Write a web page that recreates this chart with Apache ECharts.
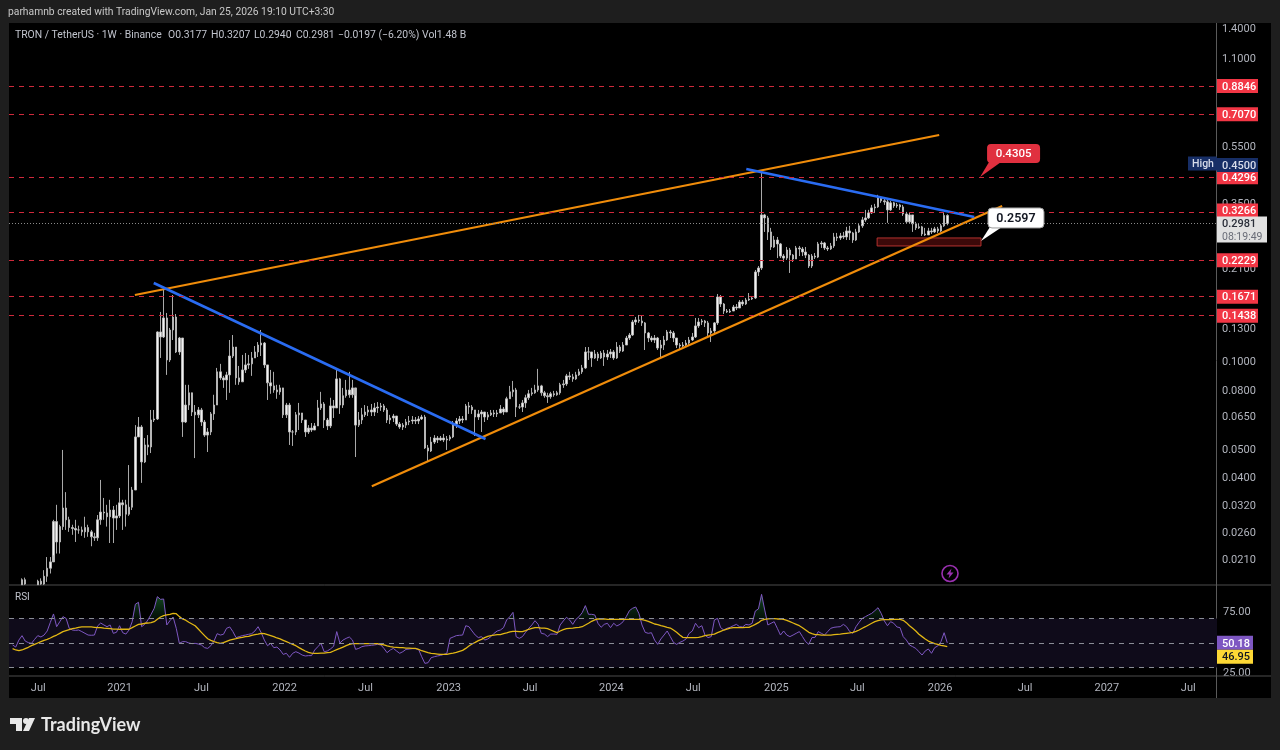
<!DOCTYPE html>
<html>
<head>
<meta charset="utf-8">
<title>TRON / TetherUS</title>
<script src="https://cdn.jsdelivr.net/npm/echarts@6/dist/echarts.min.js"></script>
<style>
  html, body { margin: 0; padding: 0; background: #1e1e1e; }
  #chart { width: 1280px; height: 750px; }
</style>
</head>
<body>
<div id="chart"></div>
<script>
// weekly candles, oldest first
// the first weeks run off the bottom of the pane, so they sit at its lower edge
const firstWeek = '2020-05-04'
const firstOpen = 0.0171
const closes = [
  .0171,.0171,.0171,.0178,.0172,.0171,.0171,.0171,.0176,.0172,
  .0183,.0195,.0205,.0282,.0240,.0271,.0314,.0286,.0269,.0267,
  .0264,.0264,.0260,.0269,.0260,.0250,.0248,.0286,.0304,.0302,
  .0293,.0309,.0290,.0295,.0327,.0322,.0299,.0316,.0362,.0551,
  .0596,.0452,.0517,.0509,.0630,.0635,.1264,.1215,.1412,.1013,
  .1284,.1423,.1079,.1205,.0620,.0709,.0781,.0671,.0656,.0682,
  .0620,.0559,.0573,.0661,.0709,.0922,.0879,.0865,.0900,.1045,
  .1122,.0879,.0852,.0936,.0974,.0982,.1029,.1079,.1140,.1158,
  .0974,.0845,.0825,.0799,.0787,.0812,.0656,.0709,.0573,.0573,
  .0656,.0666,.0630,.0573,.0591,.0582,.0601,.0693,.0715,.0630,
  .0601,.0704,.0693,.0872,.0709,.0763,.0799,.0769,.0812,.0605,
  .0630,.0656,.0671,.0682,.0671,.0693,.0698,.0704,.0682,.0630,
  .0640,.0650,.0610,.0596,.0605,.0620,.0625,.0630,.0625,.0635,
  .0645,.0505,.0493,.0529,.0546,.0538,.0546,.0538,.0542,.0551,
  .0610,.0625,.0635,.0630,.0704,.0698,.0682,.0645,.0661,.0671,
  .0645,.0656,.0666,.0661,.0666,.0687,.0671,.0745,.0787,.0799,
  .0698,.0698,.0721,.0751,.0775,.0781,.0799,.0825,.0781,.0763,
  .0757,.0775,.0769,.0781,.0832,.0838,.0893,.0886,.0872,.0900,
  .0922,.0951,.1079,.1079,.1029,.1062,.1029,.1070,.1037,.1062,
  .1079,.1029,.1122,.1087,.1140,.1205,.1234,.1368,.1390,.1379,
  .1358,.1254,.1205,.1186,.1205,.1113,.1140,.1186,.1264,.1254,
  .1205,.1140,.1131,.1140,.1158,.1186,.1215,.1326,.1368,.1379,
  .1358,.1254,.1274,.1358,.1667,.1577,.1492,.1481,.1492,.1540,
  .1528,.1602,.1577,.1628,.1641,.1654,.2032,.2097,.3191,.3116,
  .2789,.2476,.2617,.2536,.2304,.2268,.2418,.2322,.2251,.2457,
  .2437,.2379,.2322,.2130,.2304,.2286,.2536,.2556,.2457,.2437,
  .2496,.2680,.2659,.2702,.2680,.2811,.2767,.2617,.2789,.2926,
  .3068,.3116,.3242,.3373,.3400,.3652,.3566,.3538,.3320,.3510,
  .3427,.3454,.3400,.3216,.3020,.3191,.2973,.2880,.2903,.2745,
  .2723,.2811,.2789,.2857,.2811,.2926,.3177,.2981
]
const highs = [
  .0171,.0171,.0171,.0180,.0181,.0171,.0171,.0171,.0178,.0180,
  .0192,.0213,.0213,.0286,.0322,.0275,.0497,.0356,.0293,.0275,
  .0286,.0273,.0271,.0293,.0275,.0264,.0258,.0297,.0392,.0340,
  .0322,.0335,.0319,.0322,.0368,.0335,.0335,.0441,.0371,.0605,
  .0645,.0605,.0546,.0559,.0682,.0682,.1270,.1481,.1805,.1469,
  .1305,.1693,.1457,.1215,.1205,.0832,.0832,.0751,.0709,.0698,
  .0693,.0630,.0591,.0671,.0769,.0951,.0982,.0893,.0922,.1186,
  .1234,.1054,.0966,.1054,.1070,.1054,.1079,.1131,.1167,.1284,
  .1167,.0974,.0936,.0922,.0832,.0832,.0799,.0721,.0721,.0582,
  .0671,.0721,.0666,.0630,.0605,.0615,.0615,.0738,.0787,.0726,
  .0640,.0751,.0738,.0936,.0879,.0812,.0865,.0922,.0865,.0763,
  .0671,.0693,.0709,.0704,.0715,.0721,.0726,.0721,.0715,.0693,
  .0656,.0661,.0650,.0620,.0615,.0635,.0650,.0650,.0645,.0650,
  .0656,.0656,.0517,.0551,.0559,.0555,.0555,.0564,.0555,.0559,
  .0625,.0640,.0650,.0650,.0715,.0726,.0709,.0682,.0682,.0682,
  .0671,.0671,.0682,.0682,.0682,.0709,.0698,.0757,.0825,.0858,
  .0812,.0715,.0738,.0769,.0799,.0812,.0832,.0944,.0832,.0793,
  .0781,.0787,.0793,.0793,.0845,.0865,.0907,.0922,.0907,.0922,
  .0944,.0974,.1122,.1122,.1079,.1096,.1079,.1087,.1096,.1096,
  .1105,.1096,.1167,.1140,.1167,.1225,.1254,.1390,.1423,.1446,
  .1435,.1368,.1264,.1225,.1234,.1215,.1186,.1225,.1284,.1284,
  .1274,.1205,.1158,.1167,.1186,.1215,.1254,.1412,.1412,.1401,
  .1390,.1379,.1305,.1368,.1707,.1693,.1590,.1516,.1516,.1565,
  .1577,.1628,.1628,.1654,.1720,.1680,.2064,.2130,.4500,.3216,
  .3166,.2880,.2702,.2680,.2556,.2341,.2476,.2457,.2341,.2496,
  .2496,.2476,.2476,.2341,.2341,.2360,.2577,.2597,.2577,.2496,
  .2556,.2767,.2767,.2767,.2789,.2903,.2926,.2789,.2857,.2973,
  .3141,.3320,.3320,.3454,.3482,.3740,.3681,.3623,.3623,.3566,
  .3538,.3510,.3482,.3454,.3268,.3242,.3191,.3020,.2973,.2926,
  .2880,.2880,.2880,.2903,.2903,.2973,.3242,.3207
]
const lows = [
  .0171,.0171,.0171,.0171,.0171,.0171,.0171,.0171,.0171,.0171,
  .0171,.0175,.0187,.0216,.0219,.0219,.0264,.0264,.0260,.0254,
  .0240,.0256,.0252,.0248,.0250,.0232,.0242,.0242,.0275,.0286,
  .0271,.0238,.0238,.0264,.0290,.0264,.0271,.0295,.0309,.0362,
  .0551,.0383,.0448,.0477,.0485,.0620,.0630,.1029,.1205,.0900,
  .0997,.1186,.1070,.1054,.0551,.0615,.0682,.0650,.0466,.0640,
  .0601,.0551,.0489,.0559,.0630,.0709,.0865,.0812,.0738,.0781,
  .1029,.0832,.0832,.0852,.0914,.0944,.0893,.1029,.1037,.1045,
  .0951,.0738,.0775,.0781,.0745,.0769,.0640,.0640,.0517,.0513,
  .0559,.0582,.0615,.0551,.0564,.0573,.0582,.0610,.0682,.0591,
  .0582,.0591,.0640,.0693,.0661,.0693,.0751,.0751,.0751,.0470,
  .0596,.0610,.0645,.0650,.0650,.0650,.0666,.0677,.0671,.0615,
  .0610,.0620,.0601,.0587,.0582,.0591,.0605,.0610,.0610,.0610,
  .0630,.0501,.0452,.0489,.0521,.0525,.0534,.0529,.0497,.0534,
  .0546,.0591,.0610,.0615,.0630,.0661,.0661,.0555,.0630,.0573,
  .0620,.0630,.0650,.0645,.0645,.0666,.0656,.0671,.0745,.0757,
  .0645,.0687,.0671,.0693,.0738,.0763,.0775,.0787,.0763,.0751,
  .0721,.0745,.0757,.0763,.0769,.0812,.0825,.0865,.0852,.0865,
  .0893,.0907,.0944,.1013,.0959,.1021,.1005,.1021,.0966,.1013,
  .1029,.1013,.1021,.1070,.1079,.1140,.1186,.1225,.1336,.1358,
  .1326,.1096,.1167,.1167,.1158,.1096,.1037,.1096,.1177,.1205,
  .1167,.1113,.1105,.1122,.1122,.1140,.1177,.1205,.1305,.1336,
  .1315,.1225,.1167,.1244,.1336,.1540,.1457,.1469,.1469,.1492,
  .1504,.1528,.1552,.1565,.1615,.1628,.1641,.1968,.2064,.2789,
  .2617,.2418,.2457,.2268,.2268,.2199,.2234,.2016,.2199,.2251,
  .2304,.2304,.2268,.2097,.2097,.2251,.2268,.2457,.2418,.2399,
  .2418,.2457,.2597,.2617,.2638,.2617,.2617,.2556,.2597,.2767,
  .2880,.3020,.3091,.3216,.3242,.3373,.3510,.3454,.2996,.3294,
  .3373,.3373,.3320,.3166,.2973,.2973,.2789,.2832,.2857,.2702,
  .2702,.2723,.2745,.2767,.2767,.2789,.2903,.2940
]
const rsiValues = [
  48.4,46.7,52.4,56.0,51.6,50.3,49.7,53.0,56.0,54.9,
  56.5,59.8,66.9,73.7,63.3,67.4,71.5,70.1,62.0,60.6,
  60.3,60.6,59.3,57.9,56.5,56.3,56.5,63.9,66.3,64.7,
  63.3,64.7,57.9,58.7,64.1,58.4,57.3,60.6,67.4,81.6,
  83.2,63.3,65.2,68.8,73.4,78.3,87.8,85.6,85.9,64.7,
  68.2,71.2,62.0,49.7,51.1,51.1,50.0,49.5,49.7,49.2,
  48.4,46.2,45.6,47.8,51.6,57.6,56.5,57.1,62.0,63.1,
  59.3,54.4,55.2,56.0,56.5,57.1,57.6,59.8,63.3,58.4,
  52.4,47.8,49.7,46.2,46.7,44.3,40.7,41.6,38.3,41.6,
  42.9,41.8,40.2,39.4,39.7,39.7,44.3,47.0,49.7,42.9,
  43.5,45.1,47.3,59.3,50.0,52.4,53.8,54.9,52.4,44.8,
  45.6,47.0,47.6,47.8,48.1,48.4,48.9,48.4,45.6,42.1,
  44.3,45.6,43.5,41.6,42.9,44.8,45.1,45.4,45.4,44.8,
  38.8,33.4,33.9,38.0,38.8,39.4,39.9,40.7,41.6,53.8,
  54.9,56.0,56.3,56.5,64.1,63.3,59.8,56.5,54.4,55.2,
  52.4,53.3,55.2,57.9,59.8,60.6,62.5,68.8,71.5,75.0,
  55.2,53.8,55.2,58.7,62.0,64.7,68.2,65.2,57.9,57.3,
  55.2,57.3,57.3,57.1,64.7,68.0,71.0,68.8,65.2,69.3,
  71.5,74.8,80.5,73.4,73.4,72.9,66.1,62.8,65.2,66.1,
  62.5,66.1,63.9,65.2,67.4,71.5,76.4,78.3,79.4,74.2,
  64.7,58.7,57.9,58.4,52.4,48.9,53.3,56.5,59.8,55.2,
  50.5,48.9,50.5,51.6,53.3,57.9,59.8,66.1,62.5,64.1,
  56.5,54.4,55.2,68.8,70.1,62.5,60.6,62.0,62.8,64.1,
  65.2,63.3,63.1,65.2,64.7,66.1,76.1,77.8,89.7,76.9,
  64.7,66.1,67.4,62.0,56.5,59.8,56.5,55.2,56.5,57.9,
  59.3,55.2,51.1,48.9,54.4,54.6,59.3,57.9,56.5,59.3,
  62.0,62.8,63.1,63.3,65.2,63.3,59.3,57.9,63.3,66.9,
  70.1,71.5,72.9,74.2,76.4,78.8,74.2,68.0,64.1,67.4,
  66.1,63.1,62.5,55.2,52.4,48.4,47.0,45.6,42.9,40.2,
  43.5,45.1,41.6,46.2,47.6,51.1,58.4,50.18
]
const rsiAverage = [
  45.4,44.3,43.7,44.3,45.4,46.5,47.8,48.9,50.0,51.1,
  52.2,53.0,54.1,55.4,56.5,57.9,59.3,60.1,60.9,61.7,
  62.2,62.8,63.1,63.1,63.1,63.1,62.8,62.5,62.5,62.2,
  62.0,61.7,61.4,61.4,61.2,61.2,61.2,61.2,62.5,63.9,
  65.2,65.5,66.1,66.3,66.6,67.4,69.3,71.2,72.3,72.9,
  73.4,74.2,73.9,71.5,69.6,68.6,66.9,65.5,64.1,61.4,
  58.7,56.0,53.5,52.2,51.1,50.3,49.7,50.3,51.4,52.4,
  53.0,53.5,54.1,54.6,55.2,55.4,56.3,56.8,57.3,57.9,
  57.6,56.8,56.0,55.2,54.1,53.3,52.2,51.1,50.0,48.9,
  47.8,46.2,44.8,43.5,42.4,41.8,41.6,41.6,41.8,41.8,
  42.1,42.4,43.5,44.6,45.6,46.7,47.8,48.9,49.5,49.5,
  49.5,49.5,49.5,49.5,49.5,49.5,49.5,48.9,48.4,47.6,
  47.0,46.7,46.5,46.2,46.2,45.9,45.9,45.6,45.6,44.8,
  43.7,42.9,42.1,41.6,41.3,41.0,40.7,40.7,40.7,41.3,
  41.8,42.4,43.2,44.0,45.6,47.6,49.2,50.5,51.9,53.0,
  54.4,55.4,56.0,56.5,56.8,56.8,57.6,58.2,59.0,59.5,
  59.5,59.3,59.3,60.1,61.2,62.0,62.5,62.5,62.2,62.2,
  61.7,60.6,59.5,58.4,59.8,60.9,61.7,62.0,62.2,62.5,
  62.8,63.3,64.7,66.1,67.7,68.8,69.6,69.6,69.6,69.3,
  69.3,69.3,69.3,69.3,69.3,69.3,69.3,69.3,69.3,69.3,
  69.0,68.5,67.7,66.6,65.5,65.0,64.1,63.6,62.8,62.2,
  60.6,58.7,56.5,54.6,54.4,54.4,54.4,54.4,54.6,55.2,
  56.0,56.5,56.8,57.3,58.4,59.5,60.6,61.4,62.2,62.5,
  62.5,62.5,62.5,62.8,62.8,63.9,65.2,66.6,68.5,69.3,
  69.6,69.9,69.9,69.6,69.6,69.3,68.5,67.4,66.3,65.2,
  64.1,62.5,60.6,58.7,57.6,56.9,56.8,56.5,56.5,56.5,
  56.5,56.8,57.1,57.3,57.6,57.9,58.2,58.7,59.5,60.6,
  62.0,63.3,64.7,66.1,67.4,68.2,68.8,69.0,69.0,69.0,
  69.3,69.3,69.3,68.5,66.6,64.1,62.0,59.8,57.1,55.2,
  53.3,51.6,50.5,49.5,48.9,48.1,47.6,46.95
]

// drawn trend lines: [date, price] end points
const channelTop = [['2021-01-31', .1693], ['2025-12-25', .6005]]
const channelBottom = [['2022-07-12', .0373], ['2026-05-14', .3427]]
const fallingLine2021 = [['2021-03-14', .1862], ['2023-03-22', .0542]]
const fallingLine2024 = [['2024-10-22', .4591], ['2026-03-13', .3141]]

const levelPrices = [.8846, .7070, .4296, .3266, .2229, .1671, .1438]
const lastPrice = .2981
const highPrice = .4500
const zoneDates = ['2025-08-09', '2026-03-28']
const zonePrices = [.2659, .2496]
const calloutDates = ['2026-03-26', '2026-03-28']
const calloutPrices = [.4305, .2597]

const priceTicks = [1.4, 1.1, .55, .35, .21, .13, .10, .08, .065, .05, .04, .032, .026, .021]
const timeTickDates = ['2020-06-30', '2020-12-28', '2021-06-28', '2021-12-30', '2022-06-28',
  '2022-12-30', '2023-06-29', '2023-12-27', '2024-06-26', '2024-12-28', '2025-06-26',
  '2025-12-27', '2026-07-04', '2027-01-02', '2027-07-02']
const timeTickLabels = ['Jul', '2021', 'Jul', '2022', 'Jul', '2023', 'Jul', '2024', 'Jul', '2025',
  'Jul', '2026', 'Jul', '2027', 'Jul']
const titleParts = ['TRON / TetherUS · 1W · Binance', 'O0.3177', 'H0.3207', 'L0.2940', 'C0.2981', '−0.0197 (−6.20%)', 'Vol1.48 B']

const day = 86400000
const timeMin = Date.parse('2020-04-26')
const timeMax = timeMin + 2687 * day
const rsiMin = 23.9
const weeks = closes.map((c, i) => Date.parse(firstWeek) + i * 7 * day)
const opens = [firstOpen].concat(closes.slice(0, -1))
const candles = closes.map((c, i) => [weeks[i], opens[i], c, lows[i], highs[i]])

const font = 'Roboto, sans-serif'
const axisTextColor = '#b2b5be'
const red = '#f23645'
const titleX = [15, 168, 211, 254, 296, 338, 422]

// price tags sit on the right scale, so they go through api.coord like the marks
function tagSeries (name, axis, values, opts) {
  return {
    name,
    type: 'custom',
    xAxisIndex: axis,
    yAxisIndex: axis,
    z: opts.z || 10,
    silent: true,
    data: values.map(v => [timeMax, v]),
    renderItem (params, api) {
      const i = params.dataIndex
      const y = api.coord([timeMax, api.value(1)])[1] + (opts.nudge ? opts.nudge[i] : 0)
      const text = opts.texts ? opts.texts[i] : api.value(1).toFixed(4)
      return {
        type: 'group',
        children: [{
          type: 'rect',
          shape: { x: 1217, y: y - 7, width: opts.width, height: 14 },
          style: { fill: opts.fill[i] || opts.fill[0] }
        }, {
          type: 'text',
          style: {
            x: 1222, y: y + 1, text, fill: opts.color[i] || opts.color[0],
            font: '500 11px ' + font, textVerticalAlign: 'middle'
          }
        }]
      }
    }
  }
}

function trendLine (name, points, color, width) {
  return {
    name,
    type: 'line',
    xAxisIndex: 0,
    yAxisIndex: 0,
    z: 4,
    silent: true,
    showSymbol: false,
    lineStyle: { color, width },
    data: points.map(p => [Date.parse(p[0]), p[1]])
  }
}

const chart = echarts.init(document.getElementById('chart'), null, { renderer: 'canvas' })

chart.setOption({
  animation: false,
  backgroundColor: '#1e1e1e',
  textStyle: { fontFamily: font },
  grid: [
    { left: 9, top: 23, width: 1208, height: 561 },
    { left: 9, top: 586, width: 1208, height: 89 }
  ],
  xAxis: [
    { type: 'time', gridIndex: 0, min: timeMin, max: timeMax, show: false },
    {
      type: 'time',
      gridIndex: 1,
      min: timeMin,
      max: timeMax,
      axisLine: { show: false },
      axisTick: { show: false },
      splitLine: { show: false },
      axisLabel: { show: false }
    }
  ],
  yAxis: [
    {
      type: 'log',
      gridIndex: 0,
      min: .01721,
      max: 1.4565,
      position: 'right',
      axisLine: { show: false },
      axisTick: { show: false },
      splitLine: { show: false },
      minorSplitLine: { show: false },
      axisLabel: { show: false }
    },
    {
      type: 'value',
      gridIndex: 1,
      min: rsiMin,
      max: 96.5,
      position: 'right',
      axisLine: { show: false },
      axisTick: { show: false },
      splitLine: { show: false },
      axisLabel: {
        customValues: [25, 75],
        color: axisTextColor,
        fontSize: 11,
        margin: 6,
        formatter: v => v.toFixed(2)
      }
    }
  ],
  series: [
    {
      name: 'TRX/USDT',
      type: 'candlestick',
      xAxisIndex: 0,
      yAxisIndex: 0,
      barWidth: 2,
      z: 3,
      silent: true,
      itemStyle: {
        color: '#f2f2f2',
        color0: '#f2f2f2',
        borderColor: '#bcbcbc',
        borderColor0: '#bcbcbc',
        borderWidth: 0.9
      },
      data: candles,
      markLine: {
        silent: true,
        symbol: 'none',
        precision: 4,
        label: { show: false },
        lineStyle: { color: '#d0293b', width: 1, type: [5, 5] },
        data: levelPrices.map(v => ({ yAxis: v })).concat([{
          yAxis: lastPrice,
          lineStyle: { color: '#8a8a8a', width: 1, type: [1, 2] }
        }])
      },
      markArea: {
        silent: true,
        itemStyle: { color: 'rgba(110,16,16,.55)', borderColor: '#b5322e', borderWidth: 1 },
        data: [[
          { xAxis: Date.parse(zoneDates[0]), yAxis: zonePrices[0] },
          { xAxis: Date.parse(zoneDates[1]), yAxis: zonePrices[1] }
        ]]
      }
    },
    trendLine('Channel top', channelTop, '#f08c0a', 2.2),
    trendLine('Channel bottom', channelBottom, '#f08c0a', 2.2),
    trendLine('Falling line 2021', fallingLine2021, '#2a6cf2', 2.6),
    trendLine('Falling line 2024', fallingLine2024, '#2a6cf2', 2.6),
    {
      name: 'Callouts',
      type: 'custom',
      xAxisIndex: 0,
      yAxisIndex: 0,
      z: 8,
      silent: true,
      data: calloutPrices.map((v, i) => [Date.parse(calloutDates[i]), v]),
      renderItem (params, api) {
        const i = params.dataIndex
        const p = api.coord([api.value(0), api.value(1)])
        const bx = p[0] + 7
        const by = p[1] - 33
        const w = i ? 56 : 53
        const h = i ? 20 : 19
        const fill = i ? '#ffffff' : '#e0303f'
        return {
          type: 'group',
          children: [{
            type: 'polygon',
            shape: { points: [[bx + 2, by + h - 1], [bx + 14, by + h - 1], p] },
            style: { fill }
          }, {
            type: 'rect',
            shape: { x: bx, y: by, width: w, height: h, r: 4 },
            style: { fill, stroke: i ? '#9a9a9a' : null }
          }, {
            type: 'text',
            style: {
              x: bx + w / 2,
              y: by + h / 2 + 1,
              text: api.value(1).toFixed(4),
              fill: i ? '#131722' : '#ffffff',
              font: (i ? '600 12.5px ' : '500 11.5px ') + font,
              textAlign: 'center',
              textVerticalAlign: 'middle'
            }
          }]
        }
      }
    },
    {
      name: 'Price ticks',
      type: 'custom',
      xAxisIndex: 0,
      yAxisIndex: 0,
      z: 6,
      silent: true,
      data: priceTicks.map(v => [timeMax, v]),
      renderItem (params, api) {
        const y = api.coord([timeMax, api.value(1)])[1]
        return {
          type: 'text',
          style: {
            x: 1222, y: y + 1, text: api.value(1).toFixed(4), fill: axisTextColor,
            font: '11px ' + font, textVerticalAlign: 'middle'
          }
        }
      }
    },
    {
      name: 'Time ticks',
      type: 'custom',
      xAxisIndex: 1,
      yAxisIndex: 1,
      z: 6,
      silent: true,
      data: timeTickDates.map(d => [Date.parse(d), rsiMin]),
      renderItem (params, api) {
        const p = api.coord([api.value(0), api.value(1)])
        return {
          type: 'text',
          style: {
            x: p[0], y: p[1] + 13, text: timeTickLabels[params.dataIndex], fill: axisTextColor,
            font: '11px ' + font, textAlign: 'center', textVerticalAlign: 'middle'
          }
        }
      }
    },
    tagSeries('Levels', 0, levelPrices, { fill: [red], color: ['#fff'], width: 41, nudge: [0, 0, 0, -1.5, 0, 0, 0] }),
    tagSeries('High', 0, [highPrice], { fill: ['#172e66'], color: ['#d8dcea'], width: 41, nudge: [-6.5] }),
    {
      name: 'Last price',
      type: 'custom',
      xAxisIndex: 0,
      yAxisIndex: 0,
      z: 11,
      silent: true,
      data: [[timeMax, lastPrice]],
      renderItem (params, api) {
        const y = api.coord([timeMax, api.value(1)])[1]
        return {
          type: 'group',
          children: [{
            type: 'rect',
            shape: { x: 1217, y: y - 7, width: 50, height: 26 },
            style: { fill: '#e1e1e1' }
          }, {
            type: 'text',
            style: { x: 1222, y: y + 1, text: api.value(1).toFixed(4), fill: '#2a2e39', font: '500 11px ' + font, textVerticalAlign: 'middle' }
          }, {
            type: 'text',
            style: { x: 1222, y: y + 13.5, text: '08:19:49', fill: '#6a6d78', font: '10.5px ' + font, textVerticalAlign: 'middle' }
          }]
        }
      }
    },
    {
      name: 'RSI band',
      type: 'line',
      xAxisIndex: 1,
      yAxisIndex: 1,
      z: 1,
      silent: true,
      showSymbol: false,
      lineStyle: { width: 0 },
      data: [],
      markArea: {
        silent: true,
        itemStyle: { color: '#0f0b1a' },
        data: [[{ yAxis: 70 }, { yAxis: 30 }]]
      },
      markLine: {
        silent: true,
        symbol: 'none',
        label: { show: false },
        lineStyle: { color: '#8a8d96', width: 1, type: [5, 5] },
        data: [{ yAxis: 70 }, { yAxis: 50 }, { yAxis: 30 }]
      }
    },
    {
      name: 'RSI overbought',
      type: 'line',
      xAxisIndex: 1,
      yAxisIndex: 1,
      z: 2,
      silent: true,
      showSymbol: false,
      lineStyle: { width: 0 },
      areaStyle: {
        origin: 70,
        color: new echarts.graphic.LinearGradient(0, 0, 0, 1, [
          { offset: 0, color: 'rgba(40,160,70,.7)' },
          { offset: 1, color: 'rgba(20,80,40,.3)' }
        ])
      },
      data: rsiValues.map((v, i) => [weeks[i], Math.max(v, 70)])
    },
    {
      name: 'RSI',
      type: 'line',
      xAxisIndex: 1,
      yAxisIndex: 1,
      z: 3,
      silent: true,
      showSymbol: false,
      lineStyle: { color: '#7e57c2', width: 1 },
      data: rsiValues.map((v, i) => [weeks[i], v])
    },
    {
      name: 'RSI MA',
      type: 'line',
      xAxisIndex: 1,
      yAxisIndex: 1,
      z: 4,
      silent: true,
      showSymbol: false,
      lineStyle: { color: '#e2b714', width: 1.3 },
      data: rsiAverage.map((v, i) => [weeks[i], v])
    },
    tagSeries('RSI last', 1, [50.18, 46.95], {
      fill: ['#7e57c2', '#fdd835'],
      color: ['#ffffff', '#131722'],
      width: 36,
      nudge: [0, 10],
      texts: ['50.18', '46.95']
    })
  ],
  graphic: [
    { type: 'rect', z: -1, silent: true, shape: { x: 9, y: 23, width: 1262, height: 675 }, style: { fill: '#000' } },
    { type: 'line', z: 1, silent: true, shape: { x1: 9, y1: 585, x2: 1271, y2: 585 }, style: { stroke: '#4c4c4c', lineWidth: 1 } },
    { type: 'line', z: 1, silent: true, shape: { x1: 9, y1: 676, x2: 1271, y2: 676 }, style: { stroke: '#4c4c4c', lineWidth: 1 } },
    { type: 'line', z: 1, silent: true, shape: { x1: 1216.5, y1: 23, x2: 1216.5, y2: 698 }, style: { stroke: '#5a5a5a', lineWidth: 1 } },
    { type: 'text', silent: true, style: { x: 8, y: 12, text: 'parhamnb created with TradingView.com, Jan 25, 2026 19:10 UTC+3:30', fill: '#c8c8c8', font: '10.3px ' + font, textVerticalAlign: 'middle' } },
    ...titleParts.map((text, i) => ({
      type: 'text',
      silent: true,
      style: { x: titleX[i], y: 35.5, text, fill: '#c0c3cc', font: '10.4px ' + font, textVerticalAlign: 'middle' }
    })),
    { type: 'text', silent: true, style: { x: 15, y: 597.5, text: 'RSI', fill: '#c0c3cc', font: '10px ' + font, textVerticalAlign: 'middle' } },
    { type: 'rect', silent: true, z: 9, shape: { x: 1188, y: 156.5, width: 29, height: 14 }, style: { fill: '#172e66' } },
    { type: 'text', silent: true, z: 9, style: { x: 1192, y: 164, text: 'High', fill: '#d8dcea', font: '500 10.5px ' + font, textVerticalAlign: 'middle' } },
    { type: 'circle', silent: true, shape: { cx: 950, cy: 573.5, r: 8 }, style: { fill: 'none', stroke: '#9a30b0', lineWidth: 1.6 } },
    { type: 'polygon', silent: true, shape: { points: [[951.5, 568.5], [946.5, 574.5], [949.5, 574.5], [948.5, 578.5], [953.5, 572.5], [950.5, 572.5]] }, style: { fill: '#9a30b0' } },
    { type: 'polygon', silent: true, shape: { points: [[10, 718], [22, 718], [22, 731], [16, 731], [16, 724], [10, 724]] }, style: { fill: '#e8e8e8' } },
    { type: 'circle', silent: true, shape: { cx: 26, cy: 721, r: 3 }, style: { fill: '#e8e8e8' } },
    { type: 'polygon', silent: true, shape: { points: [[29, 718], [35, 718], [29, 731], [23, 731]] }, style: { fill: '#e8e8e8' } },
    { type: 'text', silent: true, style: { x: 41, y: 725.5, text: 'TradingView', fill: '#e8e8e8', font: 'bold 18px Lato, sans-serif', textVerticalAlign: 'middle' } }
  ]
})
</script>
</body>
</html>
